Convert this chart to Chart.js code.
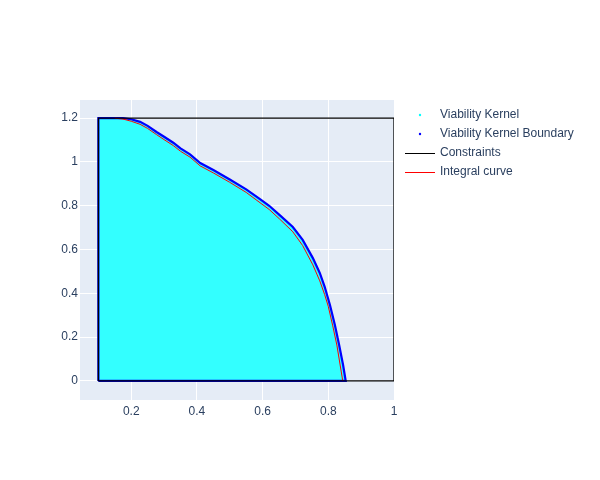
<!DOCTYPE html>
<html>
<head>
<meta charset="utf-8">
<script src="https://cdn.jsdelivr.net/npm/chart.js@4.4.1/dist/chart.umd.min.js"></script>
<style>
  body { margin: 0; background: #fff; }
  #wrap { width: 600px; height: 480px; }
</style>
</head>
<body>
<div id="wrap"><canvas id="viab"></canvas></div>
<script>
// boundary of the viability kernel (upper curve, left to right)
const boundaryX = [0.1, 0.175, 0.2, 0.227, 0.25, 0.277, 0.3, 0.328, 0.35, 0.379, 0.41, 0.45, 0.5, 0.55,
  0.592, 0.62, 0.652, 0.692, 0.722, 0.753, 0.774, 0.789, 0.805, 0.82, 0.833, 0.845, 0.853];
const boundaryY = [1.2, 1.2, 1.195, 1.183, 1.165, 1.137, 1.115, 1.088, 1.062, 1.035, 0.995, 0.963, 0.92, 0.875,
  0.83, 0.8, 0.757, 0.703, 0.644, 0.561, 0.493, 0.43, 0.347, 0.255, 0.164, 0.073, 0];

// integral curve
const integralX = [0.15, 0.175, 0.2, 0.227, 0.25, 0.277, 0.3, 0.328, 0.35, 0.379, 0.41, 0.45, 0.5, 0.55,
  0.592, 0.62, 0.652, 0.692, 0.722, 0.753, 0.774, 0.789, 0.8, 0.813, 0.826, 0.836, 0.844];
const integralY = [1.2, 1.196, 1.186, 1.172, 1.153, 1.125, 1.102, 1.075, 1.049, 1.022, 0.982, 0.95, 0.907, 0.861,
  0.814, 0.783, 0.739, 0.681, 0.618, 0.53, 0.457, 0.394, 0.34, 0.255, 0.164, 0.073, 0];

// constraint box
const constraintX = [0.1, 1, 1, 0.1, 0.1];
const constraintY = [0, 0, 1.2, 1.2, 0];

const xTicks = [0.2, 0.4, 0.6, 0.8, 1];
const yTicks = [0, 0.2, 0.4, 0.6, 0.8, 1, 1.2];

const seriesNames = ['Viability Kernel', 'Viability Kernel Boundary', 'Constraints', 'Integral curve'];
const seriesColors = ['#00ffff', '#0000ff', '#000000', '#ff0000'];
const seriesSymbols = ['dot', 'dot', 'line', 'line'];

const toPoints = (xs, ys) => xs.map((x, i) => ({ x: x, y: ys[i] }));

const kernelPts = toPoints(boundaryX, boundaryY);
const boundaryPts = [{ x: boundaryX[0], y: 0 }].concat(kernelPts, [{ x: boundaryX[0], y: 0 }]);

const textColor = '#2a3f5f';
const fontFamily = '"Liberation Sans", Arial, sans-serif';

// plot background, like plotly's grey-blue
const plotBg = {
  id: 'plotBg',
  beforeDraw(chart) {
    const a = chart.chartArea;
    const ctx = chart.ctx;
    ctx.save();
    ctx.fillStyle = '#E5ECF6';
    ctx.fillRect(a.left, a.top, a.right - a.left, a.bottom - a.top);
    ctx.restore();
  }
};

// legend drawn by hand to get plotly-like symbols
const sideLegend = {
  id: 'sideLegend',
  afterDraw(chart) {
    const ctx = chart.ctx;
    const x0 = chart.chartArea.right + 11;
    const y0 = chart.chartArea.top + 15;
    ctx.save();
    ctx.font = '12px ' + fontFamily;
    ctx.textBaseline = 'middle';
    seriesNames.forEach((name, i) => {
      const y = y0 + i * 19;
      ctx.fillStyle = seriesColors[i];
      ctx.strokeStyle = seriesColors[i];
      if (seriesSymbols[i] === 'dot') {
        ctx.beginPath();
        ctx.arc(x0 + 15, y, 1.2, 0, Math.PI * 2);
        ctx.fill();
      } else {
        ctx.lineWidth = 1;
        ctx.beginPath();
        ctx.moveTo(x0, y + 0.5);
        ctx.lineTo(x0 + 30, y + 0.5);
        ctx.stroke();
      }
      ctx.fillStyle = textColor;
      ctx.fillText(name, x0 + 35, y);
    });
    ctx.restore();
  }
};

new Chart(document.getElementById('viab'), {
  type: 'scatter',
  data: {
    datasets: [
      {
        label: seriesNames[0],
        data: kernelPts,
        showLine: true,
        fill: 'origin',
        backgroundColor: '#33ffff',
        borderWidth: 0,
        pointRadius: 0,
        order: 3
      },
      {
        label: seriesNames[1],
        data: boundaryPts,
        showLine: true,
        borderColor: '#0000ff',
        borderWidth: 2.2,
        pointRadius: 0,
        order: 2
      },
      {
        label: seriesNames[2],
        data: toPoints(constraintX, constraintY),
        showLine: true,
        borderColor: '#000000',
        borderWidth: 1.3,
        pointRadius: 0,
        order: 0
      },
      {
        label: seriesNames[3],
        data: toPoints(integralX, integralY),
        showLine: true,
        borderColor: '#ff0000',
        borderWidth: 1,
        pointRadius: 0,
        order: 1
      }
    ]
  },
  options: {
    responsive: true,
    maintainAspectRatio: false,
    animation: false,
    layout: { padding: { top: 100, bottom: 60, left: 50, right: 206 } },
    plugins: {
      tooltip: { enabled: false },
      legend: { display: false }
    },
    scales: {
      x: {
        type: 'linear',
        min: 0.044,
        max: 1.0,
        afterBuildTicks: s => { s.ticks = xTicks.map(v => ({ value: v })); },
        afterFit: s => { s.height = 20; },
        border: { display: false },
        grid: { color: '#ffffff', lineWidth: 1, drawTicks: false },
        ticks: {
          color: textColor, font: { family: fontFamily, size: 12 }, padding: 4, maxRotation: 0,
          callback: v => String(v)
        }
      },
      y: {
        type: 'linear',
        min: -0.087,
        max: 1.283,
        afterBuildTicks: s => { s.ticks = yTicks.map(v => ({ value: v })); },
        afterFit: s => { s.width = 30; },
        border: { display: false },
        grid: { color: '#ffffff', lineWidth: 1, drawTicks: false },
        ticks: {
          color: textColor, font: { family: fontFamily, size: 12 }, padding: 2,
          callback: v => String(v)
        }
      }
    }
  },
  plugins: [plotBg, sideLegend]
});
</script>
</body>
</html>
